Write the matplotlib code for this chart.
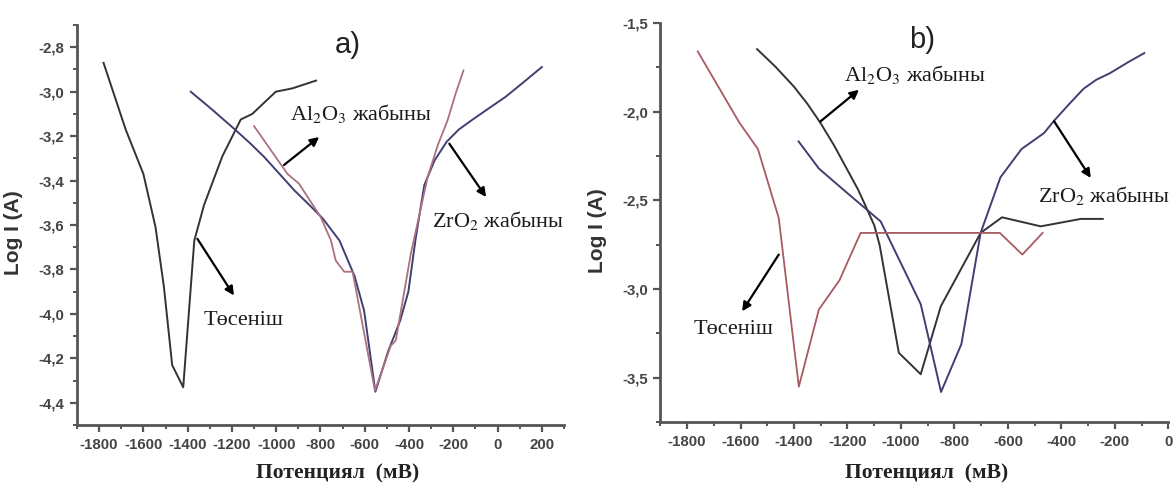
import matplotlib
matplotlib.use("Agg")
import matplotlib.pyplot as plt
from matplotlib.ticker import MultipleLocator, FuncFormatter

plt.rcParams['mathtext.fontset'] = 'stix'

# ---- panel a) ----
sub_a_x = [-1780, -1680, -1600, -1545, -1507, -1470, -1420, -1370, -1326, -1243, -1160, -1108, -1002, -927, -820]
sub_a_y = [-2.87, -3.17, -3.37, -3.61, -3.88, -4.23, -4.33, -3.67, -3.51, -3.29, -3.125, -3.10, -3.00, -2.985, -2.95]

zr_a_x = [-1386, -1290, -1191, -1120, -1054, -985, -918, -850, -790, -714, -646, -603, -552,
          -495, -440, -403, -370, -331, -285, -230, -175, -118, -40, 35, 120, 200]
zr_a_y = [-3.00, -3.08, -3.166, -3.23, -3.294, -3.37, -3.444, -3.51, -3.57, -3.67, -3.83, -3.985, -4.35,
          -4.17, -4.03, -3.90, -3.66, -3.42, -3.31, -3.225, -3.17, -3.129, -3.075, -3.024, -2.955, -2.889]

al_a_x = [-1100, -949, -897, -799, -753, -731, -693, -655, -554, -482, -460, -392, -316, -270, -226, -190, -154]
al_a_y = [-3.155, -3.37, -3.414, -3.564, -3.669, -3.76, -3.81, -3.81, -4.345, -4.142, -4.12, -3.73, -3.384, -3.24, -3.129, -3.01, -2.904]

# ---- panel b) ----
sub_b_x = [-1760, -1605, -1535, -1457, -1382, -1307, -1230, -1151, -630, -546, -470]
sub_b_y = [-1.66, -2.06, -2.21, -2.60, -3.55, -3.115, -2.95, -2.683, -2.683, -2.805, -2.683]

al_b_x = [-1538, -1470, -1401, -1350, -1301, -1250, -1201, -1160, -1126, -1100, -1080, -1008, -926,
          -851, -702, -622, -477, -327, -245]
al_b_y = [-1.647, -1.745, -1.857, -1.955, -2.063, -2.19, -2.326, -2.44, -2.552, -2.64, -2.75, -3.359, -3.48,
          -3.097, -2.683, -2.595, -2.646, -2.604, -2.604]

zr_b_x = [-1383, -1307, -1201, -1076, -926, -850, -774, -702, -628, -549, -465, -427, -370, -317, -270,
          -218, -150, -90]
zr_b_y = [-2.167, -2.32, -2.458, -2.618, -3.085, -3.58, -3.31, -2.683, -2.37, -2.21, -2.12, -2.05, -1.955,
          -1.87, -1.82, -1.782, -1.72, -1.669]

xticks_a = list(range(-1800, 201, 200))
yticks_a = [-2.8, -3.0, -3.2, -3.4, -3.6, -3.8, -4.0, -4.2, -4.4]
xticks_b = list(range(-1800, 1, 200))
yticks_b = [-1.5, -2.0, -2.5, -3.0, -3.5]

C_GRAY = '#333333'
C_NAVY = '#3f3f72'
C_PINK = '#ac7080'
C_RED = '#a85a62'
AX_COL = '#555555'

fig = plt.figure(figsize=(11.75, 4.88), dpi=100)
ax_a = fig.add_axes([0.0655, 0.129, 0.4145, 0.8197])
ax_b = fig.add_axes([0.562, 0.135, 0.4323, 0.8176])

comma = FuncFormatter(lambda v, p: ('%g' % v).replace('.', ','))
comma1 = FuncFormatter(lambda v, p: ('%.1f' % v).replace('.', ','))


def style(ax, xt, yt, xlim, ylim, xminor, yminor, yfmt):
    for s in ('top', 'right'):
        ax.spines[s].set_visible(False)
    for s in ('left', 'bottom'):
        ax.spines[s].set_linewidth(2.0)
        ax.spines[s].set_color(AX_COL)
    ax.set_xlim(*xlim)
    ax.set_ylim(*ylim)
    ax.set_xticks(xt)
    ax.set_yticks(yt)
    ax.xaxis.set_minor_locator(MultipleLocator(xminor))
    ax.yaxis.set_minor_locator(MultipleLocator(yminor))
    ax.xaxis.set_major_formatter(comma)
    ax.yaxis.set_major_formatter(yfmt)
    ax.tick_params(which='major', direction='out', length=5, width=1.6, color=AX_COL,
                   labelsize=10.8, labelcolor='#444444', pad=4)
    ax.tick_params(which='minor', direction='out', length=3, width=1.4, color=AX_COL)
    for lab in ax.get_xticklabels() + ax.get_yticklabels():
        lab.set_fontfamily('Liberation Sans')
        lab.set_fontweight('bold')
    ax.set_ylabel('Log I (A)', fontfamily='Liberation Sans', fontweight='bold',
                  fontsize=15, color='#333333')
    ax.set_xlabel('Потенциял  (мВ)', fontfamily='Liberation Serif', fontweight='bold',
                  fontsize=15.5, color='#222222', va='center')


def arrow(ax, tail, head):
    ax.annotate('', xy=head, xytext=tail,
                arrowprops=dict(arrowstyle='-|>', color='black', lw=1.6,
                                mutation_scale=13, shrinkA=0, shrinkB=0),
                annotation_clip=False)


def label(ax, x, y, s):
    ax.text(x, y, s, fontfamily='Liberation Serif', fontsize=16, color='#1a1a1a',
            ha='center', va='center', clip_on=False)


# panel a)
style(ax_a, xticks_a, yticks_a, (-1900, 300), (-4.5, -2.7), 100, 0.1, comma1)
ax_a.plot(sub_a_x, sub_a_y, color=C_GRAY, lw=1.4)
ax_a.plot(zr_a_x, zr_a_y, color=C_NAVY, lw=1.4)
ax_a.plot(al_a_x, al_a_y, color=C_PINK, lw=1.3)
arrow(ax_a, (-965, -3.33), (-806, -3.204))
arrow(ax_a, (-218, -3.234), (-52, -3.474))
arrow(ax_a, (-1356, -3.662), (-1191, -3.917))
label(ax_a, -617, -3.10, r'Al$_2$O$_3$ жабыны')
label(ax_a, 0, -3.58, r'ZrO$_2$ жабыны')
label(ax_a, -1146, -4.03, 'Төсеніш')
ax_a.text(-676, -2.79, 'a)', fontfamily='Liberation Sans', fontsize=21,
          ha='center', va='center', color='#222222')
ax_a.xaxis.set_label_coords(0.535, -0.12)
ax_a.yaxis.set_label_coords(-0.11, 0.48)

# panel b)
style(ax_b, xticks_b, yticks_b, (-1900, 0), (-3.75, -1.5), 100, 0.25, comma1)
ax_b.plot(al_b_x, al_b_y, color=C_GRAY, lw=1.4)
ax_b.plot(zr_b_x, zr_b_y, color=C_NAVY, lw=1.4)
ax_b.plot(sub_b_x, sub_b_y, color=C_RED, lw=1.3)
arrow(ax_b, (-1301, -2.054), (-1157, -1.876))
arrow(ax_b, (-427, -2.054), (-290, -2.373))
arrow(ax_b, (-1457, -2.805), (-1594, -3.125))
label(ax_b, -949, -1.79, r'Al$_2$O$_3$ жабыны')
label(ax_b, -241, -2.47, r'ZrO$_2$ жабыны')
label(ax_b, -1628, -3.227, 'Төсеніш')
ax_b.text(-922, -1.595, 'b)', fontfamily='Liberation Sans', fontsize=21,
          ha='center', va='center', color='#222222')
ax_b.xaxis.set_label_coords(0.525, -0.128)
ax_b.yaxis.set_label_coords(-0.105, 0.48)

fig.savefig('out.png', dpi=100, facecolor='white')
